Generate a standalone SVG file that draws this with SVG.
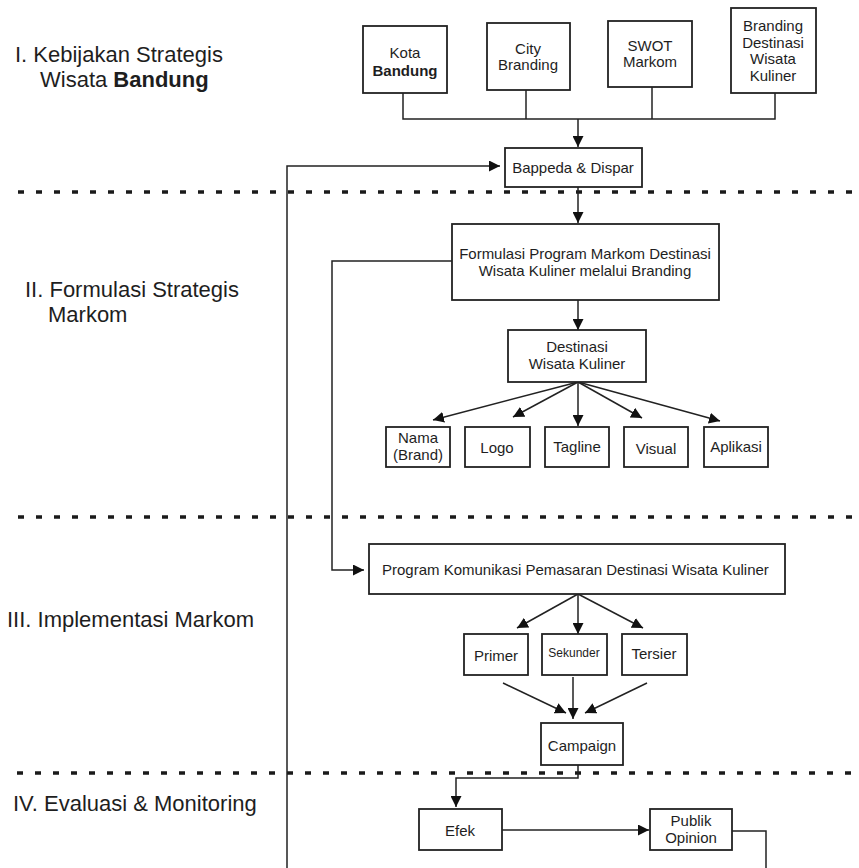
<svg xmlns="http://www.w3.org/2000/svg" width="859" height="868" viewBox="0 0 859 868">
<defs>
<style>
.box{fill:#fff;stroke:#222;stroke-width:1.8}
.t{font-family:"Liberation Sans",Arial,sans-serif;font-size:15px;fill:#1e1e1e;text-anchor:middle;dominant-baseline:central}
.sec{font-family:"Liberation Sans",Arial,sans-serif;font-size:22px;fill:#1e1e1e}
.c{fill:none;stroke:#222;stroke-width:1.5}
.ca{fill:none;stroke:#222;stroke-width:1.5;marker-end:url(#ah)}
.dash{fill:none;stroke:#1a1a1a;stroke-width:3.5;stroke-dasharray:6 12}
</style>
<marker id="ah" viewBox="0 0 10 10" refX="10" refY="5" markerWidth="11" markerHeight="11" markerUnits="userSpaceOnUse" orient="auto">
<path d="M0,0 L10,5 L0,10 z" fill="#111"/>
</marker>
</defs>
<rect width="859" height="868" fill="#fff"/>

<g id="separators">
<line class="dash" x1="18" y1="192" x2="852" y2="192"/>
<line class="dash" x1="18" y1="517" x2="852" y2="517"/>
<line class="dash" x1="17" y1="773" x2="852" y2="773"/>
</g>

<g id="section-labels">
<text class="sec" x="15" y="62">I. Kebijakan Strategis</text>
<text class="sec" x="40" y="87">Wisata <tspan font-weight="bold">Bandung</tspan></text>
<text class="sec" x="25" y="297">II. Formulasi Strategis</text>
<text class="sec" x="48" y="322">Markom</text>
<text class="sec" x="7" y="627">III. Implementasi Markom</text>
<text class="sec" x="13" y="811">IV. Evaluasi &amp; Monitoring</text>
</g>

<g id="connectors">
<path class="c" d="M403,93 V119 H775 V93"/>
<path class="c" d="M526,90 V119"/>
<path class="c" d="M652,87 V119"/>
<path class="ca" d="M578,119 V147"/>
<path class="ca" d="M287,868 V166 H500"/>
<path class="ca" d="M578,187 V223"/>
<path class="ca" d="M452,261 H332 V570 H364"/>
<path class="ca" d="M578,300 V330"/>
<path class="ca" d="M578,382 L433,420"/>
<path class="ca" d="M578,382 L513,417"/>
<path class="ca" d="M578,382 V426"/>
<path class="ca" d="M578,382 L642,418"/>
<path class="ca" d="M578,382 L720,421"/>
<path class="ca" d="M578,594 L517,628"/>
<path class="ca" d="M578,594 V634"/>
<path class="ca" d="M578,594 L643,628"/>
<path class="ca" d="M503,683 L566,713"/>
<path class="ca" d="M573,677 V719"/>
<path class="ca" d="M647,683 L585,713"/>
<path class="ca" d="M578,765 V778 H456 V807"/>
<path class="ca" d="M502,830 H649"/>
<path class="c" d="M732,831 H766 V868"/>
</g>

<g id="kota-bandung">
<rect class="box" x="363" y="26" width="84" height="67"/>
<text class="t" x="405" y="52" font-size="14">Kota</text>
<text class="t" x="405" y="70" font-weight="bold">Bandung</text>
</g>
<g id="city-branding">
<rect class="box" x="487" y="23" width="83" height="67"/>
<text class="t" x="528" y="48">City</text>
<text class="t" x="528" y="64">Branding</text>
</g>
<g id="swot-markom">
<rect class="box" x="608" y="21" width="84" height="66"/>
<text class="t" x="650" y="45">SWOT</text>
<text class="t" x="650" y="61">Markom</text>
</g>
<g id="branding-destinasi">
<rect class="box" x="731" y="8" width="85" height="85"/>
<text class="t" x="773" y="25">Branding</text>
<text class="t" x="773" y="42">Destinasi</text>
<text class="t" x="773" y="58">Wisata</text>
<text class="t" x="773" y="75">Kuliner</text>
</g>
<g id="bappeda-dispar">
<rect class="box" x="505" y="148" width="137" height="39"/>
<text class="t" x="573" y="167">Bappeda &amp; Dispar</text>
</g>
<g id="formulasi-program">
<rect class="box" x="452" y="224" width="267" height="76"/>
<text class="t" x="585" y="253">Formulasi Program Markom Destinasi</text>
<text class="t" x="585" y="270">Wisata Kuliner melalui Branding</text>
</g>
<g id="destinasi-wisata-kuliner">
<rect class="box" x="508" y="330" width="138" height="52"/>
<text class="t" x="577" y="346">Destinasi</text>
<text class="t" x="577" y="363">Wisata Kuliner</text>
</g>
<g id="nama-brand">
<rect class="box" x="386" y="427" width="64" height="40"/>
<text class="t" x="418" y="437">Nama</text>
<text class="t" x="418" y="454">(Brand)</text>
</g>
<g id="logo">
<rect class="box" x="465" y="427" width="65" height="40"/>
<text class="t" x="497" y="447">Logo</text>
</g>
<g id="tagline">
<rect class="box" x="545" y="427" width="64" height="40"/>
<text class="t" x="577" y="446" font-size="14.5">Tagline</text>
</g>
<g id="visual">
<rect class="box" x="624" y="427" width="64" height="40"/>
<text class="t" x="656" y="448">Visual</text>
</g>
<g id="aplikasi">
<rect class="box" x="704" y="427" width="64" height="40"/>
<text class="t" x="736" y="446">Aplikasi</text>
</g>
<g id="program-komunikasi">
<rect class="box" x="369" y="544" width="416" height="50"/>
<text class="t" x="382" y="569" text-anchor="start" style="text-anchor:start">Program Komunikasi Pemasaran Destinasi Wisata Kuliner</text>
</g>
<g id="primer">
<rect class="box" x="464" y="634" width="64" height="41"/>
<text class="t" x="496" y="655" font-size="14.5">Primer</text>
</g>
<g id="sekunder">
<rect class="box" x="542" y="634" width="65" height="41"/>
<text class="t" x="574" y="653" style="font-size:12px">Sekunder</text>
</g>
<g id="tersier">
<rect class="box" x="622" y="634" width="65" height="41"/>
<text class="t" x="654" y="653" font-size="14.5">Tersier</text>
</g>
<g id="campaign">
<rect class="box" x="541" y="723" width="82" height="42"/>
<text class="t" x="582" y="745">Campaign</text>
</g>
<g id="efek">
<rect class="box" x="419" y="809" width="83" height="41"/>
<text class="t" x="460" y="830">Efek</text>
</g>
<g id="publik-opinion">
<rect class="box" x="650" y="809" width="82" height="41"/>
<text class="t" x="691" y="820">Publik</text>
<text class="t" x="691" y="837">Opinion</text>
</g>
</svg>
